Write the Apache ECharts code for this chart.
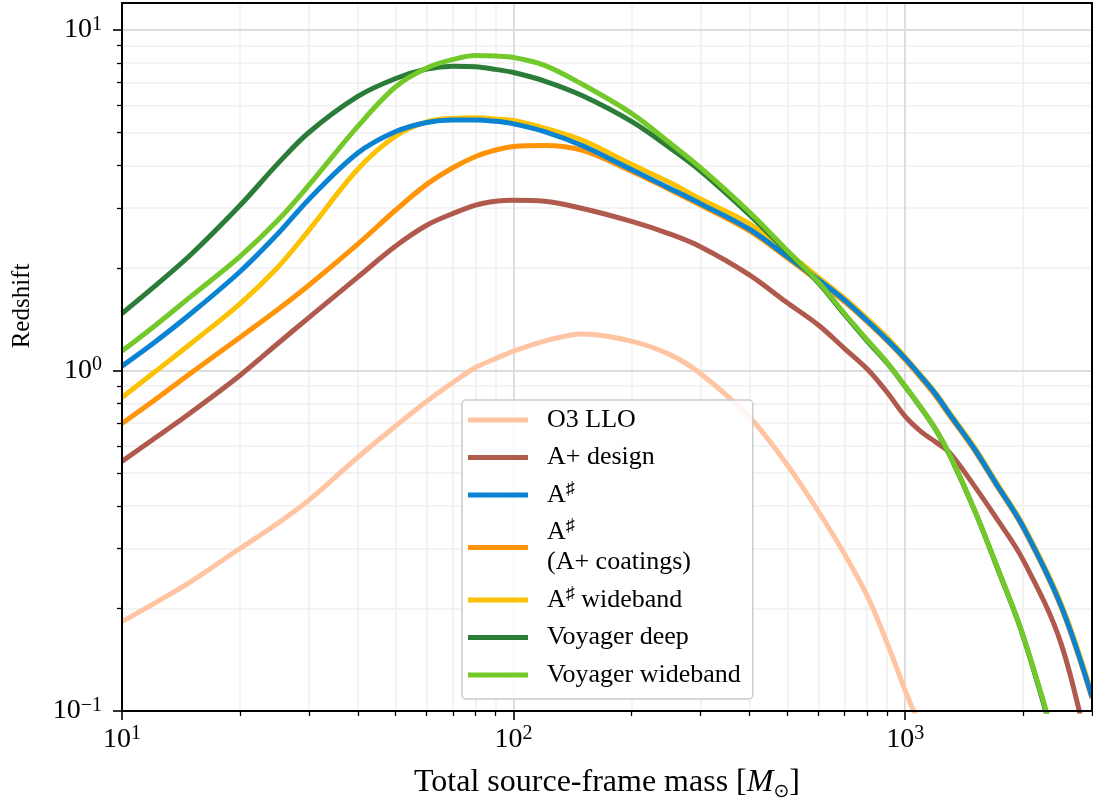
<!DOCTYPE html>
<html><head><meta charset="utf-8">
<script src="https://cdn.jsdelivr.net/npm/echarts@6/dist/echarts.min.js"></script>
<style>html,body{margin:0;padding:0;background:#fff}#c{width:1093px;height:801px}</style>
</head><body><div id="c"></div>
<script>
// ---- data ----
const mass = [10,12,15,20,25,30,40,50,60,70,80,90,100,120,150,200,250,300,400,500,600,700,800,900,1000,1100,1200,1300,1500,1700,2000,2500,3000];
const o3LLO      = [0.183,0.206,0.240,0.300,0.356,0.416,0.556,0.687,0.812,0.922,1.02,1.084,1.14,1.22,1.28,1.22,1.115,0.98,0.73,0.528,0.386,0.289,0.218,0.158,0.115,0.088,null,null,null,null,null,null,null];
const aPlusDesign= [0.541,0.627,0.753,0.967,1.20,1.43,1.88,2.32,2.67,2.89,3.06,3.14,3.16,3.14,2.99,2.74,2.52,2.31,1.91,1.58,1.36,1.16,1.01,0.862,0.733,0.66,0.615,0.573,0.459,0.372,0.278,0.158,0.068];
const aSharp     = [1.03,1.20,1.47,1.95,2.52,3.18,4.35,5.03,5.35,5.44,5.44,5.39,5.30,5.03,4.57,3.89,3.43,3.09,2.60,2.16,1.85,1.61,1.40,1.23,1.085,0.957,0.848,0.743,0.590,0.469,0.348,0.204,0.11];
const aSharpCoat = [0.699,0.812,0.983,1.25,1.51,1.78,2.35,2.96,3.52,3.94,4.25,4.44,4.55,4.58,4.43,3.85,3.40,3.06,2.57,2.14,1.83,1.59,1.39,1.22,1.075,0.947,0.838,0.735,0.585,0.465,0.345,0.202,0.109];
const aSharpWide = [0.833,0.981,1.20,1.57,2.01,2.58,3.90,4.88,5.37,5.50,5.52,5.48,5.42,5.15,4.74,4.03,3.57,3.19,2.70,2.22,1.88,1.63,1.42,1.25,1.095,0.965,0.855,0.75,0.597,0.474,0.352,0.207,0.112];
const voyDeep    = [1.47,1.75,2.19,3.05,4.05,5.00,6.38,7.20,7.68,7.83,7.80,7.66,7.50,7.08,6.41,5.39,4.52,3.86,2.87,2.23,1.81,1.46,1.22,1.05,0.897,0.773,0.667,0.563,0.391,0.272,0.166,0.069,0.03];
const voyWide    = [1.14,1.34,1.65,2.16,2.76,3.50,5.21,6.81,7.73,8.19,8.41,8.38,8.30,7.87,6.92,5.69,4.67,3.94,2.92,2.25,1.82,1.47,1.23,1.055,0.90,0.775,0.668,0.565,0.392,0.273,0.167,0.070,0.03];

const names = ['O3 LLO','A+ design','A\u266f','A\u266f\n(A+ coatings)','A\u266f wideband','Voyager deep','Voyager wideband'];
const xMajorTicks = [10,100,1000];
const xMinorTicks = [20,30,40,50,60,70,80,90,200,300,400,500,600,700,800,900,2000,3000];
const yMajorTicks = [0.1,1,10];
const yMinorTicks = [0.2,0.3,0.4,0.5,0.6,0.7,0.8,0.9,2,3,4,5,6,7,8,9];
const xRange = [10, 3000];
const yRange = [0.1, 12];
const xTitle = 'Total source-frame mass [';
const yTitle = 'Redshift';

// ---- layout / style ----
const W = 1093, H = 801;
const GRID = {left:122, top:3, right:1, bottom:90};
const FONT = '"Liberation Serif", "DejaVu Serif", serif';
const colors = {
  'O3 LLO':'#FFC4A2', 'A+ design':'#B05A4D', 'A\u266f':'#0A84D2',
  'A\u266f\n(A+ coatings)':'#FF9408', 'A\u266f wideband':'#FBC103',
  'Voyager deep':'#2B7C38', 'Voyager wideband':'#74C92A'
};
const seriesData = {
  'O3 LLO':o3LLO, 'A+ design':aPlusDesign, 'A\u266f':aSharp,
  'A\u266f\n(A+ coatings)':aSharpCoat, 'A\u266f wideband':aSharpWide,
  'Voyager deep':voyDeep, 'Voyager wideband':voyWide
};
// draw order (later = on top)
const drawOrder = ['O3 LLO','A+ design','A\u266f wideband','A\u266f\n(A+ coatings)','A\u266f','Voyager deep','Voyager wideband'];

function powLabel(v){
  const e = Math.round(Math.log10(v));
  return '{b|10}{s|' + (e < 0 ? '\u2212' : '') + Math.abs(e) + '}';
}
const tickRich = {
  b:{fontFamily:FONT, fontSize:28, color:'#000', lineHeight:31},
  s:{fontFamily:FONT, fontSize:20, color:'#000', lineHeight:24, verticalAlign:'top'}
};
const majorGrid = {show:true, lineStyle:{color:'#dddddd', width:2}};
const minorGrid = {show:true, lineStyle:{color:'#efefef', width:1.5}};

function mkAxis(range, major, minor, pos, isX){
  return [
    { type:'log', logBase:10, min:range[0], max:range[1], position:pos, gridIndex:0,
      axisLine:{show:false},
      axisTick:{show:true, inside:false, length:9, customValues:major, lineStyle:{color:'#000', width:1.6}},
      axisLabel:{show:true, customValues:major, formatter:powLabel, rich:tickRich, margin: isX?13:20},
      splitLine:majorGrid, z:1 },
    { type:'log', logBase:10, min:range[0], max:range[1], position:pos, gridIndex:0,
      axisLine:{show:false},
      axisTick:{show:true, inside:false, length:5, customValues:minor, lineStyle:{color:'#000', width:1.3}},
      axisLabel:{show:false},
      splitLine:minorGrid, z:0 }
  ];
}

const series = drawOrder.map(n => ({
  name:n, type:'line', xAxisIndex:0, yAxisIndex:0,
  data: mass.map((m,i)=>[m, seriesData[n][i]]).filter(p=>p[1]!==null),
  showSymbol:false, symbol:'none', smooth:0.35, clip:true,
  lineStyle:{width:5, color:colors[n], cap:'butt'}, itemStyle:{color:colors[n]},
  emphasis:{disabled:true}
}));

function legendFmt(name){
  return name.split('\n').map(line => {
    const parts = line.split('\u266f');
    let s = '';
    parts.forEach((p,i)=>{ if(p) s += '{n|'+p+'}'; if(i<parts.length-1) s += '{s|\u266f}'; });
    return s;
  }).join('\n');
}

const option = {
  animation:false,
  backgroundColor:'#fff',
  grid:{left:GRID.left, top:GRID.top, right:GRID.right, bottom:GRID.bottom, containLabel:false},
  xAxis: mkAxis(xRange, xMajorTicks, xMinorTicks, 'bottom', true),
  yAxis: mkAxis(yRange, yMajorTicks, yMinorTicks, 'left', false),
  legend:{
    data:names, orient:'vertical', left:462, top:400,
    icon:'rect', itemWidth:60, itemHeight:5, itemGap:7.5,
    padding:[5,12,9,6],
    backgroundColor:'rgba(255,255,255,0.85)', borderColor:'#cccccc', borderWidth:1.5, borderRadius:4,
    formatter:legendFmt,
    textStyle:{fontFamily:FONT, fontSize:26, lineHeight:30, color:'#000', padding:[0,0,0,14], rich:{
      n:{fontFamily:FONT, fontSize:26, color:'#000', lineHeight:30},
      s:{fontFamily:FONT, fontSize:18, color:'#000', lineHeight:22, verticalAlign:'top'}
    }},
    selectedMode:false
  },
  series:series,
  graphic:[
    { type:'rect', z:100, silent:true,
      shape:{x:GRID.left, y:GRID.top, width:W-GRID.left-GRID.right, height:H-GRID.top-GRID.bottom},
      style:{fill:null, stroke:'#000', lineWidth:2} },
    { type:'text', z:100, x:(GRID.left + W - GRID.right)/2, y:783,
      style:{ text:'{n|'+xTitle+'}{i|M}{sub|\u2299}{n|]}', align:'center', verticalAlign:'middle',
        rich:{ n:{fontFamily:FONT, fontSize:32, color:'#000', lineHeight:38},
               i:{fontFamily:FONT, fontSize:32, fontStyle:'italic', color:'#000', lineHeight:38},
               sub:{fontFamily:'"DejaVu Sans", sans-serif', fontSize:19, color:'#000', lineHeight:22, verticalAlign:'bottom'} } } },
    { type:'text', z:100, x:22, y:306, rotation:Math.PI/2,
      style:{ text:yTitle, align:'center', verticalAlign:'middle', fontFamily:FONT, fontSize:25, fill:'#000' } }
  ]
};
const chart = echarts.init(document.getElementById('c'));
chart.setOption(option);
</script>
</body></html>
